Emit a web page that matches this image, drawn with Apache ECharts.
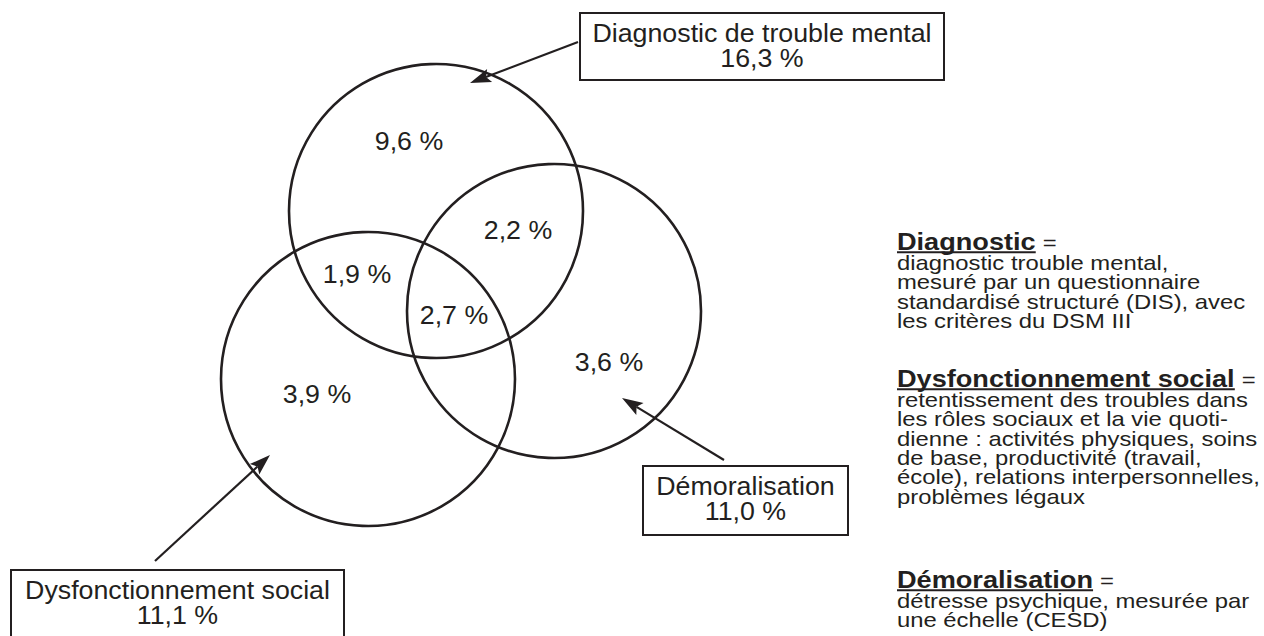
<!DOCTYPE html>
<html>
<head>
<meta charset="utf-8">
<script src="https://cdn.jsdelivr.net/npm/echarts@6/dist/echarts.min.js"></script>
<style>
  html, body { margin: 0; padding: 0; background: #ffffff; }
  #chart { width: 1264px; height: 636px; }
</style>
</head>
<body>
<div id="chart"></div>
<script>
// ---------------- DATA ----------------
const setNames = ['Diagnostic de trouble mental', 'Dysfonctionnement social', 'Démoralisation'];
const setTotals = [16.3, 11.1, 11.0];
const regionNames = ['Diagnostic seul', 'Diagnostic + Démoralisation', 'Diagnostic + Dysfonctionnement',
                     'Les trois', 'Démoralisation seule', 'Dysfonctionnement seul'];
const regionValues = [9.6, 2.2, 1.9, 2.7, 3.6, 3.9];
const legendTitles = ['Diagnostic', 'Dysfonctionnement social', 'Démoralisation'];
const legendLines = [
  ['diagnostic trouble mental,', 'mesuré par un questionnaire', 'standardisé structuré (DIS), avec', 'les critères du DSM III'],
  ['retentissement des troubles dans', 'les rôles sociaux et la vie quoti-', 'dienne : activités physiques, soins',
   'de base, productivité (travail,', 'école), relations interpersonnelles,', 'problèmes légaux'],
  ['détresse psychique, mesurée par', 'une échelle (CESD)']
];

// ---------------- LAYOUT (data space of hidden axes) ----------------
const circleCenters = [[436, 211], [368, 379], [554, 311]];
const circleRadius = 147;
const regionAnchors = [[409, 141], [518, 230], [357, 274], [454, 315], [609, 362], [317, 394]];
const boxRects = [[580, 13, 364, 67], [11, 570, 333, 80], [643, 466, 205, 69]];
const arrowPaths = [[[578, 42], [470, 83]], [[155, 561], [270, 455]], [[724, 460], [622, 398]]];
const legendTop = [242, 379, 580];

// ---------------- STYLE ----------------
const INK = '#231f20';
const FONT = '"Liberation Sans", Arial, Helvetica, sans-serif';
const SX = 1.05;          // diagram texts
const SX_LEG = 1.18;      // legend block texts
const LABEL_SIZE = 25.5;
const BODY_SIZE = 20.2;
const HEAD_SIZE = 23;
const LINE_H = 19.4;
const FIRST_GAP = 21;

function fmt(v) { return v.toFixed(1).replace('.', ',') + ' %'; }

function textEl(str, x, y, size, align, weight, sx) {
  return {
    type: 'text', x: x, y: y, scaleX: sx || SX,
    style: { text: str, x: 0, y: 0, fill: INK, fontSize: size, fontFamily: FONT,
             fontWeight: weight || 'normal', align: align || 'center', verticalAlign: 'middle' }
  };
}

const chart = echarts.init(document.getElementById('chart'), null, { renderer: 'svg' });

// legend block (graphic)
const measureCtx = document.createElement('canvas').getContext('2d');
function measure(str, size, weight) {
  measureCtx.font = (weight || 'normal') + ' ' + size + 'px ' + FONT;
  return measureCtx.measureText(str).width;
}
const graphics = [];
const LX = 897;
legendTitles.forEach(function (t, i) {
  const y0 = legendTop[i];
  const w = measure(t, HEAD_SIZE, 'bold') * SX_LEG;
  graphics.push(textEl(t, LX, y0, HEAD_SIZE, 'left', 'bold', SX_LEG));
  graphics.push(textEl('=', LX + w + 7, y0 + 1, BODY_SIZE, 'left', 'normal', SX_LEG));
  graphics.push({ type: 'line', shape: { x1: LX, y1: y0 + 10.3, x2: LX + w, y2: y0 + 10.3 },
                  style: { stroke: INK, lineWidth: 2 } });
  legendLines[i].forEach(function (line, j) {
    graphics.push(textEl(line, LX, y0 + FIRST_GAP + LINE_H * j, BODY_SIZE, 'left', 'normal', SX_LEG));
  });
});

const option = {
  animation: false,
  backgroundColor: '#ffffff',
  grid: { left: 0, right: 0, top: 0, bottom: 0 },
  xAxis: { type: 'value', min: 0, max: 1264, show: false },
  yAxis: { type: 'value', min: 0, max: 636, inverse: true, show: false },
  graphic: { elements: graphics },
  series: [
    {
      name: 'ensembles', type: 'custom', coordinateSystem: 'cartesian2d',
      data: setNames.map(function (n, i) { return { name: n, value: [i, setTotals[i]] }; }),
      renderItem: function (params, api) {
        const i = api.value(0);
        const c = api.coord(circleCenters[i]);
        const r = api.size([circleRadius, 0])[0];
        return { type: 'circle', shape: { cx: c[0], cy: c[1], r: r },
                 style: { fill: 'none', stroke: INK, lineWidth: 2.6 } };
      }
    },
    {
      name: 'zones', type: 'custom', coordinateSystem: 'cartesian2d',
      data: regionNames.map(function (n, i) { return { name: n, value: [i, regionValues[i]] }; }),
      renderItem: function (params, api) {
        const i = api.value(0);
        const p = api.coord(regionAnchors[i]);
        return textEl(fmt(api.value(1)), p[0], p[1], LABEL_SIZE, 'center');
      }
    },
    {
      name: 'fleches', type: 'custom', coordinateSystem: 'cartesian2d',
      data: setNames.map(function (n, i) { return { name: n, value: [i] }; }),
      renderItem: function (params, api) {
        const i = api.value(0);
        const a = api.coord(arrowPaths[i][0]);
        const b = api.coord(arrowPaths[i][1]);
        const dx = b[0] - a[0], dy = b[1] - a[1];
        const L = Math.sqrt(dx * dx + dy * dy);
        const ux = dx / L, uy = dy / L, nx = -uy, ny = ux;
        const HL = 21, HW = 7, NOTCH = 4;
        const base = [b[0] - ux * HL, b[1] - uy * HL];
        const notch = [b[0] - ux * (HL - NOTCH), b[1] - uy * (HL - NOTCH)];
        return {
          type: 'group',
          children: [
            { type: 'line', shape: { x1: a[0], y1: a[1], x2: notch[0], y2: notch[1] },
              style: { stroke: INK, lineWidth: 2.2 } },
            { type: 'polygon', shape: { points: [
                b, [base[0] + nx * HW, base[1] + ny * HW], notch, [base[0] - nx * HW, base[1] - ny * HW]] },
              style: { fill: INK } }
          ]
        };
      }
    },
    {
      name: 'boites', type: 'custom', coordinateSystem: 'cartesian2d',
      data: setNames.map(function (n, i) { return { name: n, value: [i, setTotals[i]] }; }),
      renderItem: function (params, api) {
        const i = api.value(0);
        const r = boxRects[i];
        const p = api.coord([r[0], r[1]]);
        const s = api.size([r[2], r[3]]);
        const cx = p[0] + s[0] / 2;
        const top = p[1];
        return {
          type: 'group',
          children: [
            { type: 'rect', shape: { x: p[0], y: p[1], width: s[0], height: s[1] },
              style: { fill: '#ffffff', stroke: INK, lineWidth: 2 } },
            textEl(setNames[i], cx, top + 20, LABEL_SIZE, 'center'),
            textEl(fmt(api.value(1)), cx, top + 45, LABEL_SIZE, 'center')
          ]
        };
      }
    }
  ]
};
chart.setOption(option);
</script>
</body>
</html>
